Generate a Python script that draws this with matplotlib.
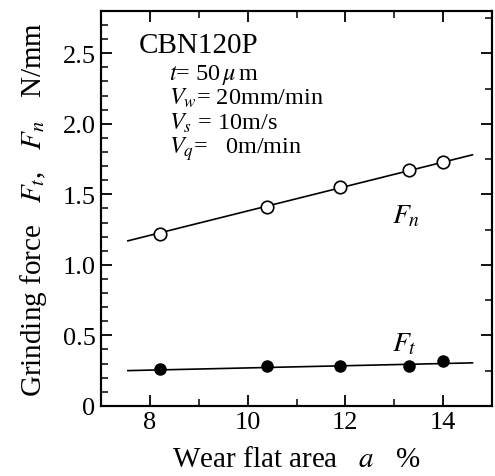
import matplotlib
matplotlib.use("Agg")
import matplotlib.pyplot as plt
from matplotlib.ticker import MultipleLocator

# wear flat area a (%) and grinding forces (N/mm)
wear_area = [8.2, 10.4, 11.9, 13.3, 14.0]
force_n = [1.22, 1.41, 1.55, 1.67, 1.73]
force_t = [0.26, 0.28, 0.28, 0.28, 0.32]

# fitted lines (end points)
fit_x = [7.55, 14.6]
fit_n = [1.17, 1.78]
fit_t = [0.25, 0.305]

plt.rcParams.update({
    "font.family": ["Liberation Serif", "DejaVu Serif"],
    "mathtext.fontset": "stix",
    "axes.linewidth": 1.5,
})

fig = plt.figure(figsize=(4.95, 4.77), dpi=100)
ax = fig.add_axes([0.204, 0.147, 0.790, 0.828])

ax.plot(fit_x, fit_n, color="black", lw=1.2)
ax.plot(fit_x, fit_t, color="black", lw=1.2)
ax.plot(wear_area, force_n, "o", ms=9, mfc="white", mec="black", mew=1.2)
ax.plot(wear_area, force_t, "o", ms=8, mfc="black", mec="black")

ax.set_xlim(7, 15)
ax.set_ylim(0, 2.8)
ax.xaxis.set_major_locator(MultipleLocator(2))
ax.xaxis.set_minor_locator(MultipleLocator(1))
ax.yaxis.set_minor_locator(MultipleLocator(0.1))
ax.set_yticks([0, 0.5, 1.0, 1.5, 2.0, 2.5])
ax.set_yticklabels(["0", "0.5", "1.0", "1.5", "2.0", "2.5"])

ax.tick_params(which="both", direction="in", top=True, right=False,
               labelsize=19, pad=4)
ax.tick_params(which="major", length=8, width=1.3)
ax.tick_params(which="minor", length=5, width=1.1)

# right-hand ticks at 0.25 steps
rax = ax.twinx()
rax.set_ylim(ax.get_ylim())
rax.yaxis.set_major_locator(MultipleLocator(0.5))
rax.yaxis.set_minor_locator(MultipleLocator(0.25))
rax.tick_params(which="both", direction="in", labelright=False)
rax.tick_params(which="major", length=8, width=1.3)
rax.tick_params(which="minor", length=5, width=1.1)

ax.set_xlabel("Wear flat area   $a$   %", fontsize=21, labelpad=9)
ax.set_ylabel("Grinding force   $F_t$,   $F_n$   N/mm", fontsize=21,
              labelpad=10)

ax.text(7.78, 2.51, "CBN120P", fontsize=21)
conds = ["$t$= 50$\\,\\mu\\,$m", "$V_w$= 20mm/min",
         "$V_s$ = 10m/s", "$V_q$=   0m/min"]
for i, s in enumerate(conds):
    ax.text(8.4, 2.32 - i * 0.176, s, fontsize=17.5)

ax.text(12.95, 1.30, "$F_n$", fontsize=20)
ax.text(12.95, 0.39, "$F_t$", fontsize=20)

fig.savefig("out.png", dpi=100)
